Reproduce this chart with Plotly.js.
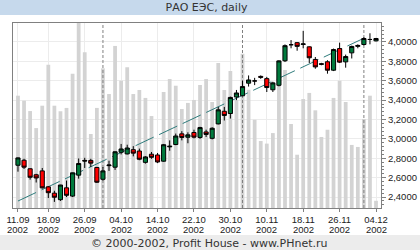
<!DOCTYPE html>
<html><head><meta charset="utf-8">
<script src="https://cdn.plot.ly/plotly-3.0.1.min.js"></script>
<style>html,body{margin:0;padding:0;background:#fff}#chart{width:420px;height:250px}</style>
</head><body><div id="chart"></div>
<script>
// ---- data ----
const year = "2002";
const dates = ["11.09","12.09","13.09","16.09","17.09","18.09","19.09","20.09","23.09","24.09",
  "25.09","26.09","27.09","30.09","01.10","02.10","03.10","04.10","07.10","08.10",
  "09.10","10.10","11.10","14.10","15.10","16.10","17.10","18.10","21.10","22.10",
  "23.10","24.10","25.10","28.10","29.10","30.10","31.10","01.11","04.11","05.11",
  "06.11","10.11","11.11","12.11","13.11","14.11","15.11","18.11","19.11","20.11",
  "21.11","22.11","25.11","26.11","27.11","28.11","29.11","02.12","03.12","04.12"];
const open = [2.728,2.780,2.692,2.630,2.670,2.505,2.440,2.373,2.495,2.410,
  2.626,2.778,2.778,2.705,2.583,2.724,2.708,2.862,2.845,2.889,
  2.875,2.758,2.842,2.834,2.770,2.918,2.942,3.052,3.017,3.066,
  3.015,3.072,3.006,3.155,3.285,3.262,3.432,3.445,3.575,3.598,
  3.645,3.622,3.507,3.553,3.806,3.972,3.993,3.975,3.950,3.820,
  3.776,3.796,3.709,3.932,3.795,3.888,3.955,3.974,4.026,4.012];
const high = [2.810,2.795,2.696,2.640,2.700,2.512,2.465,2.526,2.570,2.652,
  2.798,2.805,2.795,2.712,2.710,2.775,2.872,2.948,2.940,2.925,
  2.900,2.822,2.865,2.855,2.948,2.985,3.055,3.080,3.068,3.095,
  3.125,3.095,3.120,3.330,3.330,3.436,3.505,3.600,3.655,3.630,
  3.655,3.640,3.590,3.812,3.975,4.020,4.000,4.115,3.955,3.845,
  3.785,3.812,3.932,3.993,3.870,3.962,3.976,4.050,4.090,4.042];
const low = [2.662,2.690,2.580,2.550,2.488,2.390,2.350,2.360,2.400,2.400,
  2.590,2.700,2.710,2.545,2.570,2.670,2.680,2.840,2.840,2.820,
  2.780,2.745,2.795,2.750,2.765,2.878,2.935,2.985,2.955,3.005,
  3.000,3.020,2.995,3.150,3.190,3.210,3.400,3.440,3.540,3.555,
  3.620,3.484,3.484,3.542,3.793,3.935,3.910,3.935,3.783,3.724,
  3.760,3.673,3.700,3.783,3.735,3.830,3.935,3.965,3.976,4.005];
const close = [2.804,2.708,2.604,2.597,2.495,2.445,2.398,2.524,2.418,2.650,
  2.746,2.772,2.750,2.553,2.670,2.730,2.867,2.896,2.906,2.853,
  2.790,2.814,2.810,2.762,2.940,2.924,3.030,3.015,3.042,3.018,
  3.117,3.046,3.110,3.300,3.242,3.428,3.474,3.540,3.608,3.598,
  3.636,3.530,3.578,3.805,3.962,3.972,3.955,3.980,3.837,3.743,
  3.770,3.709,3.922,3.792,3.850,3.954,3.964,4.036,4.026,4.036];
const volume = [60.7,58.0,52.4,43.2,55.3,77.5,55.3,52.3,54.1,72.6,
  100,84.2,40.0,54.1,75.5,61.6,87.6,68.8,76.1,61.6,
  63.8,59.5,49.7,0,62.7,69.7,66.1,53.5,56.8,58.4,
  66.5,69.7,57.3,78.4,63.8,74.1,58.4,83.4,63.9,47.7,
  36.2,34.8,40.5,66.6,74.6,45.4,28.8,58.9,62.2,52.8,
  38.4,42.3,59.5,68.8,57.3,34.1,33.0,48.1,60.7,3.9];
const tickDates = ["11.09","18.09","26.09","04.10","14.10","22.10","30.10","10.11","18.11","26.11","04.12"];
const trendX = [0, 56.7];
const trendY = [2.359, 4.030];
const priceRange = [2.287, 4.196];
const volumeRange = [0, 100];

// ---- layout helpers ----
const W = 420, H = 250;
const M = {l: 13, r: 39, t: 23, b: 42};
const pw = W - M.l - M.r, ph = H - M.t - M.b;
const px = x => (x - M.l) / pw;
const py = y => (H - M.b - y) / ph;

const idx = dates.map((d, i) => i);
const isDoji = idx.map(i => open[i] === close[i]);
const regIdx = idx.filter(i => !isDoji[i]);
const dojiIdx = idx.filter(i => isDoji[i]);
const sel = (arr, ids) => ids.map(i => arr[i]);
const monthStarts = idx.filter(i => i > 0 && dates[i].slice(3) !== dates[i - 1].slice(3));
const tickVals = tickDates.map(d => dates.indexOf(d));

const mx = [], my = [];
monthStarts.forEach(i => { mx.push(i, i, null); my.push(priceRange[0], priceRange[1], null); });

const tickFont = {family: 'Liberation Sans, Arial, sans-serif', size: 9.5, color: '#222'};

const traces = [
  {type: 'bar', x: idx, y: volume, xaxis: 'x', yaxis: 'y', width: 0.62,
   marker: {color: '#d3d3d3', line: {width: 0}}, hoverinfo: 'skip'},
  {type: 'scatter', mode: 'lines', x: mx, y: my, xaxis: 'x', yaxis: 'y2',
   line: {color: '#808080', width: 1, dash: '3px,2px'}, hoverinfo: 'skip', connectgaps: false},
  {type: 'scatter', mode: 'lines', x: trendX, y: trendY, xaxis: 'x', yaxis: 'y2',
   line: {color: '#2f7c7c', width: 1, dash: '20px,6px'}, hoverinfo: 'skip'},
  {type: 'candlestick', x: regIdx, open: sel(open, regIdx), high: sel(high, regIdx),
   low: sel(low, regIdx), close: sel(close, regIdx), xaxis: 'x', yaxis: 'y3', whiskerwidth: 0,
   increasing: {line: {color: '#000', width: 1}, fillcolor: '#007a3d'},
   decreasing: {line: {color: '#000', width: 1}, fillcolor: '#ff0000'}},
  {type: 'candlestick', x: dojiIdx, open: sel(open, dojiIdx), high: sel(high, dojiIdx),
   low: sel(low, dojiIdx), close: sel(close, dojiIdx), xaxis: 'x', yaxis: 'y3', whiskerwidth: 0,
   increasing: {line: {color: '#000', width: 1}, fillcolor: '#000'},
   decreasing: {line: {color: '#000', width: 1}, fillcolor: '#000'}}
];

const yearAnnotations = tickVals.map(v => ({
  text: year, xref: 'x', yref: 'paper', x: v, y: py(229.5), xanchor: 'center', yanchor: 'middle',
  showarrow: false, font: tickFont
}));

const layout = {
  width: W, height: H, margin: {l: M.l, r: M.r, t: M.t, b: M.b, pad: 0},
  paper_bgcolor: '#fff', plot_bgcolor: '#fff', showlegend: false,
  separators: ', ', boxgap: 0.15, boxgroupgap: 0.2,
  title: {text: 'РАО ЕЭС, daily', font: {family: 'DejaVu Sans, sans-serif', size: 11, color: '#333'},
          xref: 'container', x: 206.5 / W, xanchor: 'center', yref: 'container', y: 1 - 7.5 / H, yanchor: 'middle'},
  xaxis: {range: [-0.82, dates.length - 1 + 0.82], tickmode: 'array', tickvals: tickVals, ticktext: tickDates,
          ticks: 'outside', ticklen: 3, tickcolor: '#808080', showgrid: true, gridcolor: '#ececec',
          showline: true, linecolor: '#808080', mirror: true, zeroline: false, tickfont: tickFont,
          rangeslider: {visible: false}, fixedrange: true},
  yaxis: {range: volumeRange, visible: false, fixedrange: true},
  yaxis2: {overlaying: 'y', side: 'right', range: priceRange, tick0: 0, dtick: 0.2, tickformat: '.4f',
           ticks: 'outside', ticklen: 4, tickcolor: '#808080', showgrid: true, gridcolor: '#ececec',
           showline: true, linecolor: '#808080', mirror: true, zeroline: false, tickfont: tickFont,
           minor: {dtick: 0.04, ticks: 'outside', ticklen: 2, tickcolor: '#808080', showgrid: false},
           fixedrange: true},
  yaxis3: {overlaying: 'y', range: priceRange, visible: false, fixedrange: true},
  shapes: [
    {type: 'rect', xref: 'paper', yref: 'paper', x0: px(0), x1: px(W), y0: py(15), y1: py(0),
     fillcolor: '#c6d9ec', line: {width: 0}, layer: 'below'},
    {type: 'rect', xref: 'paper', yref: 'paper', x0: px(0), x1: px(W), y0: py(H), y1: py(235),
     fillcolor: '#ececec', line: {width: 0}, layer: 'below'}
  ],
  annotations: yearAnnotations.concat([
    {text: '© 2000-2002, Profit House - www.PHnet.ru', xref: 'paper', yref: 'paper',
     x: px(209), y: py(243), xanchor: 'center', yanchor: 'middle', showarrow: false,
     font: {family: 'DejaVu Sans, sans-serif', size: 11, color: '#333'}}
  ])
};

Plotly.newPlot('chart', traces, layout, {staticPlot: true, displayModeBar: false});
</script>
</body></html>
